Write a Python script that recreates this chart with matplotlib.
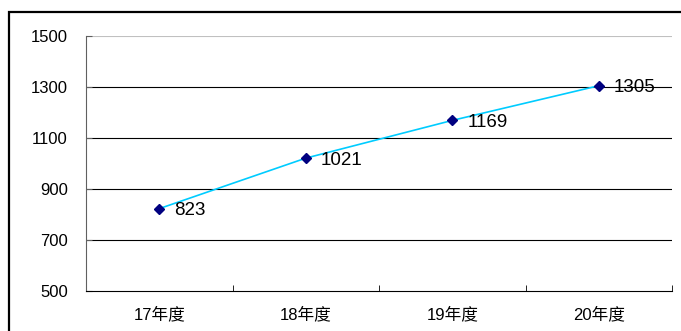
import matplotlib.pyplot as plt
from matplotlib.patches import Rectangle

years = ['17年度', '18年度', '19年度', '20年度']
values = [823, 1021, 1169, 1305]
yticks = [500, 700, 900, 1100, 1300, 1500]

plt.rcParams['font.family'] = ['Liberation Sans', 'Noto Sans CJK SC', 'DejaVu Sans']

W, H = 681, 331
fig = plt.figure(figsize=(W / 100, H / 100), dpi=100)
ax = fig.add_axes([86 / W, 1 - 291 / H, (672 - 86) / W, (291 - 36) / H])

# outer frame (only left and top visible in the crop)
fig.patches.append(Rectangle((9 / W, -0.05), 1.2, 1 - 12 / H + 0.05,
                             transform=fig.transFigure, fill=False,
                             edgecolor='black', linewidth=1.6))

x = list(range(len(years)))
ax.plot(x, values, color='#00CCFF', linewidth=1.2, zorder=3)
ax.plot(x, values, linestyle='none', marker='D', markersize=5.5,
        color='#000080', zorder=4)
for xi, v in zip(x, values):
    ax.annotate(str(v), (xi, v), xytext=(11, -1.5), textcoords='offset points',
                va='center', ha='left', fontsize=13.5)

ax.set_xlim(-0.5, len(years) - 0.5)
ax.set_ylim(500, 1500)
ax.set_yticks(yticks)
ax.set_yticklabels([str(t) for t in yticks], fontsize=12)
for t in yticks[1:]:
    ax.axhline(t, color='#C0C0C0' if t == 1500 else 'black', linewidth=0.8, zorder=1)

ax.set_xticks(x)
ax.set_xticklabels(years, fontsize=12)
ax.tick_params(axis='x', length=0, pad=11)
ax.set_xticks([i - 0.5 for i in range(len(years) + 1)], minor=True)
ax.tick_params(axis='x', which='minor', direction='in', length=4, color='black')
ax.tick_params(axis='y', direction='in', length=4, pad=13, color='#606060')

for s in ['top', 'right']:
    ax.spines[s].set_visible(False)
ax.spines['left'].set_color('#606060')
ax.spines['bottom'].set_color('black')

fig.savefig('out.png', dpi=100)
